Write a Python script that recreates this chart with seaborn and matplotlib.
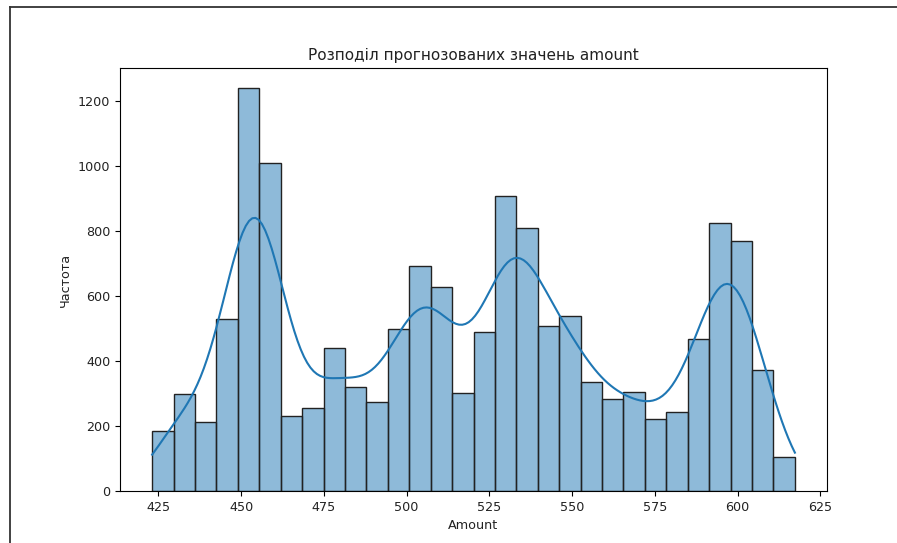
import numpy as np
import pandas as pd
import matplotlib
matplotlib.use("Agg")
import matplotlib.pyplot as plt
from matplotlib.lines import Line2D
import seaborn as sns

# Histogram of predicted amounts: 30 equal bins between these limits
amount_min, amount_max = 423.1, 617.3
counts = [185, 297, 213, 529, 1240, 1008, 230, 256, 439, 321,
          273, 498, 693, 629, 302, 490, 909, 809, 508, 539,
          335, 284, 305, 223, 242, 467, 824, 770, 371, 104]

title = "Розподіл прогнозованих значень amount"
x_label = "Amount"
y_label = "Частота"

edges = np.linspace(amount_min, amount_max, len(counts) + 1)
df = pd.DataFrame({"amount": (edges[:-1] + edges[1:]) / 2, "count": counts})

# weighted bin centres -> match bandwidth of the original (un-binned) sample,
# a bit narrower to make up for the spread that binning adds
w = df["count"].to_numpy(float)
n_eff = w.sum() ** 2 / (w ** 2).sum()
bw_adjust = 0.94 * (n_eff / w.sum()) ** 0.2

fig = plt.figure(figsize=(8.97, 5.43), dpi=100)
ax = fig.add_axes([0.1338, 0.0958, 0.7882, 0.779])

plt.rcParams["font.family"] = ["DejaVu Sans"]
sns.histplot(data=df, x="amount", weights="count", bins=len(counts),
             binrange=(amount_min, amount_max), kde=True,
             kde_kws={"bw_adjust": bw_adjust, "cut": 3,
                      "clip": (amount_min, amount_max)},
             color="#1f77b4", edgecolor="#222222", ax=ax)

ax.set_title(title, fontsize=11, color="#222222")
ax.set_xlabel(x_label, fontsize=9.2, color="#222222")
ax.set_ylabel(y_label, fontsize=9.2, color="#222222")
ax.tick_params(labelsize=9.2, labelcolor="#222222")

# frame of the notebook cell around the figure
fig.add_artist(Line2D([0.011, 0.011], [0.0, 0.987], color="#333333", lw=1.3))
fig.add_artist(Line2D([0.011, 1.0], [0.987, 0.987], color="#333333", lw=1.3))

fig.savefig("out.png", dpi=100)
